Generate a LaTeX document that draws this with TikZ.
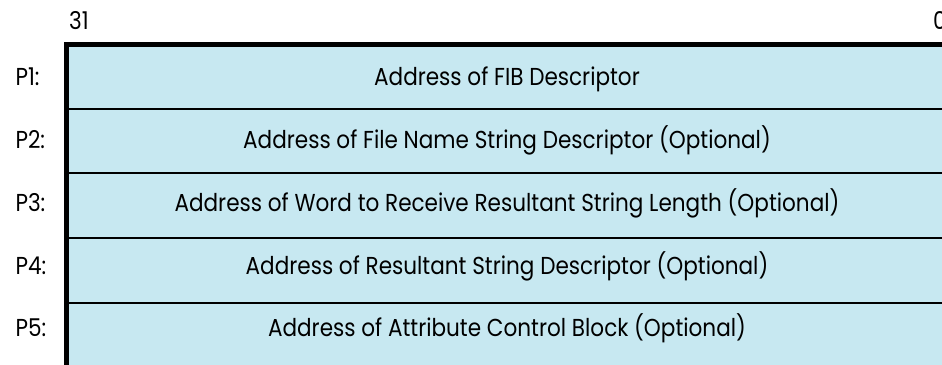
\documentclass[tikz,border=0pt]{standalone}
\usepackage{fontspec}
\setmainfont{Poppins}[FakeStretch=0.88]
\definecolor{cellblue}{RGB}{199,232,241}
\tikzset{
  celltext/.style={font=\fontsize{24.5}{28}\selectfont, anchor=base},
  argname/.style={font=\fontsize{24.5}{28}\selectfont, anchor=base west},
  bitno/.style={font=\fontsize{24.5}{28}\selectfont, anchor=base}
}
\begin{document}
\begin{tikzpicture}[x=1pt,y=-1pt]
  \useasboundingbox (0,0) rectangle (942,364);
  % argument list block
  \fill[cellblue] (66,44) rectangle (950,372);
  \foreach \y in {109,173,238,303}
    \draw[line width=2.6pt] (66,\y) -- (950,\y);
  \draw[line width=5pt] (66.5,372) -- (66.5,44.5) -- (950,44.5);
  \foreach \n/\y/\txt in {1/85/{Address of FIB Descriptor},
      2/148/{Address of File Name String Descriptor (Optional)},
      3/211/{Address of Word to Receive Resultant String Length (Optional)},
      4/274/{Address of Resultant String Descriptor (Optional)},
      5/336/{Address of Attribute Control Block (Optional)}}
  {
    \node[celltext] (row\n) at (507,\y) {\txt};
    \node[argname] (p\n) at (12,\y) {P\n:};
  }
  \node[bitno] (msb) at (79,29) {31};
  \node[bitno] (lsb) at (940,29) {0};
\end{tikzpicture}
\end{document}
